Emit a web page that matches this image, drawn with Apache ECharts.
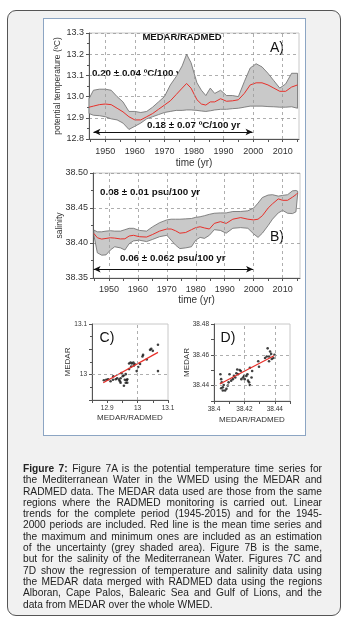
<!DOCTYPE html>
<html>
<head>
<meta charset="utf-8">
<script src="https://cdn.jsdelivr.net/npm/echarts@6/dist/echarts.min.js"></script>
<style>
  html, body { margin: 0; padding: 0; background: #fff; }
  body { width: 351px; height: 621px; position: relative; overflow: hidden; font-family: "Liberation Sans", Arial, sans-serif; }
  #card { position: absolute; box-sizing: border-box; left: 7px; top: 10px; width: 334px; height: 606px; border: 1.5px solid #555; border-radius: 9px; background: #f1f1f1; }
  #fig { position: absolute; box-sizing: border-box; left: 43px; top: 18px; width: 263px; height: 418px; border: 1.5px solid #8ca5c3; background: #fff; }
  #chart { position: absolute; left: 0; top: 0; width: 351px; height: 621px; }
  #cap { position: absolute; left: 23px; top: 463px; width: 299px; font-size: 10.2px; line-height: 11.3px; color: #222; }
  #cap div { text-align: justify; text-align-last: justify; white-space: nowrap; }
  #cap div.last { text-align-last: left; }
</style>
</head>
<body>
<div id="card"></div>
<div id="fig"></div>
<div id="chart"></div>
<div id="cap">
  <div><b>Figure 7:</b> Figure 7A is the potential temperature time series for</div>
  <div>the Mediterranean Water in the WMED using the MEDAR and</div>
  <div>RADMED data. The MEDAR data used are those from the same</div>
  <div>regions where the RADMED monitoring is carried out. Linear</div>
  <div>trends for the complete period (1945-2015) and for the 1945-</div>
  <div>2000 periods are included. Red line is the mean time series and</div>
  <div>the maximum and minimum ones are included as an estimation</div>
  <div>of the uncertainty (grey shaded area). Figure 7B is the same,</div>
  <div>but for the salinity of the Mediterranean Water. Figures 7C and</div>
  <div>7D show the regression of temperature and salinity data using</div>
  <div>the MEDAR data merged with RADMED data using the regions</div>
  <div>Alboran, Cape Palos, Balearic Sea and Gulf of Lions, and the</div>
  <div class="last">data from MEDAR over the whole WMED.</div>
</div>
<script>
// panel A: potential temperature (mean, min, max)
const yearsA = [1944.5, 1946, 1948, 1950, 1952, 1954, 1956, 1958, 1960, 1962, 1964, 1966, 1968, 1970, 1972, 1974, 1976, 1977.5, 1979, 1981,
  1982.5, 1984, 1985.5, 1987, 1989, 1991, 1993, 1995, 1997, 1999, 2001, 2003, 2005, 2007, 2009, 2011, 2013, 2015];
const meanA = [12.95, 12.955, 12.962, 12.965, 12.962, 12.945, 12.928, 12.905, 12.89, 12.89, 12.905, 12.92, 12.94, 12.96, 12.98, 13.01, 13.04, 13.062, 13.04, 12.985,
  12.965, 12.96, 12.975, 12.975, 12.99, 12.978, 12.98, 12.985, 13.015, 13.055, 13.065, 13.065, 13.055, 13.04, 13.025, 13.025, 13.045, 13.055];
const upperA = [12.99, 13.03, 13.035, 13.035, 13.03, 13.0, 12.975, 12.93, 12.93, 12.925, 12.93, 12.95, 12.975, 13.0, 13.055, 13.095, 13.145, 13.2, 13.16, 13.065,
  13.03, 13.005, 13.04, 13.015, 13.03, 13.005, 13.005, 13.0, 13.07, 13.135, 13.155, 13.14, 13.11, 13.075, 13.04, 13.06, 13.11, 13.11];
const lowerA = [12.92, 12.912, 12.91, 12.905, 12.895, 12.89, 12.875, 12.845, 12.86, 12.875, 12.895, 12.905, 12.915, 12.925, 12.93, 12.935, 12.935, 12.937, 12.937, 12.935,
  12.932, 12.93, 12.933, 12.937, 12.94, 12.94, 12.943, 12.945, 12.95, 12.955, 12.955, 12.955, 12.953, 12.952, 12.95, 12.95, 12.952, 12.945];

// panel B: salinity (mean, min, max)
const yearsB = [1944.8, 1946, 1947.5, 1949, 1950.5, 1952, 1954, 1955.5, 1957, 1958.5, 1960.5, 1963, 1965, 1967.5, 1970, 1971.5, 1973, 1974.5, 1976.5, 1978.5,
  1980, 1981.5, 1983, 1984.7, 1986.4, 1988.5, 1990.5, 1992.8, 1995.5, 1998, 2000, 2001.5, 2003, 2005, 2006.5, 2008.5, 2010, 2011.7, 2013.4, 2014.6, 2015.2];
const meanB = [38.4137, 38.4075, 38.4056, 38.4065, 38.4075, 38.407, 38.4058, 38.406, 38.41, 38.411, 38.409, 38.4085, 38.412, 38.417, 38.42, 38.42, 38.4175, 38.414, 38.415, 38.419,
  38.422, 38.4232, 38.4215, 38.42, 38.428, 38.4305, 38.428, 38.434, 38.4363, 38.434, 38.433, 38.434, 38.439, 38.45, 38.456, 38.463, 38.461, 38.461, 38.4655, 38.469, 38.4715];
const upperB = [38.4185, 38.416, 38.416, 38.417, 38.4176, 38.417, 38.417, 38.419, 38.421, 38.421, 38.418, 38.417, 38.423, 38.429, 38.433, 38.434, 38.434, 38.434, 38.4345, 38.435,
  38.4367, 38.4375, 38.439, 38.441, 38.4425, 38.443, 38.443, 38.445, 38.445, 38.446, 38.45, 38.457, 38.465, 38.4685, 38.469, 38.467, 38.468, 38.469, 38.4745, 38.475, 38.474];
const lowerB = [38.411, 38.386, 38.3826, 38.383, 38.39, 38.3946, 38.393, 38.39, 38.399, 38.403, 38.404, 38.402, 38.405, 38.409, 38.411, 38.404, 38.397, 38.392, 38.393, 38.3946,
  38.404, 38.408, 38.4066, 38.411, 38.419, 38.418, 38.414, 38.421, 38.422, 38.421, 38.413, 38.408, 38.414, 38.425, 38.434, 38.443, 38.4465, 38.4425, 38.442, 38.4445, 38.47];

// trend arrows (1945-2000)
const arrowYearsA = [1946, 1999.8];
const arrowValA = 12.833;
const arrowYearsB = [1944.7, 1999.8];
const arrowValB = 38.3625;

// panel C: MEDAR vs MEDAR/RADMED temperature
const cX = [12.889, 12.897, 12.903, 12.911, 12.919, 12.92, 12.928, 12.933, 12.939, 12.942, 12.944, 12.944, 12.947, 12.951, 12.955, 12.961, 12.958, 12.964, 12.966, 12.961,
  12.966, 12.955, 12.972, 12.972, 12.977, 12.981, 12.986, 12.979, 12.988, 12.99, 12.997, 13.002, 13.008, 13.018, 13.016, 13.03, 13.041, 13.045, 13.05, 13.067, 13.067];
const cY = [12.989, 12.99, 12.991, 12.987, 12.99, 12.997, 12.991, 12.993, 12.99, 12.987, 12.984, 12.993, 13.003, 12.997, 12.999, 13.001, 12.99, 12.989, 12.991, 12.984,
  12.984, 12.978, 13.022, 13.011, 13.024, 13.022, 13.024, 13.016, 13.018, 13.021, 13.007, 13.015, 13.021, 13.039, 13.036, 13.03, 13.049, 13.051, 13.047, 13.059, 13.007];
const regCX = [12.887, 13.067];
const regCY = [12.984, 13.044];

// panel D: MEDAR vs MEDAR/RADMED salinity
const dX = [38.4042, 38.4047, 38.4051, 38.4058, 38.4064, 38.4058, 38.4073, 38.4047, 38.4082, 38.4091, 38.4096, 38.4102, 38.4113, 38.4124, 38.4131, 38.414, 38.4147, 38.4153,
  38.4158, 38.4169, 38.4176, 38.418, 38.4191, 38.4198, 38.4202, 38.4213, 38.422, 38.4224, 38.4231, 38.4236, 38.4236, 38.4247, 38.4251, 38.4291, 38.4296, 38.4336, 38.4347,
  38.4353, 38.4362, 38.4362, 38.4376, 38.438, 38.4391, 38.4398, 38.4369];
const dY = [38.4474, 38.4442, 38.4421, 38.4389, 38.4404, 38.4368, 38.4368, 38.4383, 38.4379, 38.44, 38.4421, 38.4474, 38.4432, 38.4442, 38.4463, 38.4453, 38.448, 38.4505,
  38.4474, 38.4501, 38.4495, 38.4442, 38.4453, 38.4463, 38.4442, 38.4463, 38.4474, 38.4432, 38.4421, 38.4404, 38.4516, 38.4453, 38.4495, 38.4558, 38.4522, 38.4579, 38.4589,
  38.4642, 38.4589, 38.4558, 38.4606, 38.4573, 38.4579, 38.46, 38.4621];
const regDX = [38.4038, 38.4395];
const regDY = [38.441, 38.4594];

const labelYears = [1950, 1960, 1970, 1980, 1990, 2000, 2010];
const tickYears = [1945, 1950, 1955, 1960, 1965, 1970, 1975, 1980, 1985, 1990, 1995, 2000, 2005, 2010, 2015];

const FONT = 'Liberation Sans';
const AXIS = '#555';
const RED = '#e8302a';
const DASH = { type: [3, 3], color: '#9a9a9a', width: 0.8 };

function pairs(xs, ys) {
  return xs.map((x, i) => [x, ys[i]]);
}

function gridBox(left, top, width, height) {
  return { left, top, width, height, show: true, borderColor: '#c8c8c8', borderWidth: 1, backgroundColor: 'transparent' };
}

function timeAxis(gi, min, max, nameGap, margin) {
  return {
    gridIndex: gi, type: 'value', min, max,
    axisLine: { onZero: false, lineStyle: { color: AXIS } },
    axisTick: { customValues: tickYears, length: 3, lineStyle: { color: AXIS } },
    axisLabel: { customValues: labelYears, formatter: v => String(v), fontSize: 9, color: '#333', margin },
    splitLine: { show: false },
    name: 'time (yr)', nameLocation: 'middle', nameGap, nameMoveOverlap: false,
    nameTextStyle: { fontSize: 10, color: '#333' }
  };
}

function valAxis(gi, min, max, interval, name, nameGap, fmt, opts) {
  return Object.assign({
    gridIndex: gi, type: 'value', min, max, interval,
    axisLine: { show: true, onZero: false, lineStyle: { color: AXIS } },
    axisTick: { show: true, length: 3, lineStyle: { color: AXIS } },
    minorTick: { show: true, splitNumber: 2, length: 2, lineStyle: { color: AXIS } },
    axisLabel: { formatter: fmt, fontSize: 9, color: '#333', margin: 5 },
    splitLine: { show: true, lineStyle: DASH },
    name, nameLocation: 'middle', nameGap, nameMoveOverlap: false,
    nameTextStyle: { fontSize: 8.5, color: '#333' }
  }, opts || {});
}

function pickLabels(list, digits) {
  return v => {
    const r = Math.round(v * 1000) / 1000;
    return list.some(t => Math.abs(t - r) < 1e-6) ? String(Number(r.toFixed(digits))) : '';
  };
}

// grey min-max envelope drawn as one polygon through the axis scales
function bandSeries(idx, years, lower, upper) {
  return {
    type: 'custom', xAxisIndex: idx, yAxisIndex: idx, silent: true, z: 1,
    data: years.map((y, i) => [y, lower[i], upper[i]]),
    encode: { x: 0, y: [1, 2] },
    renderItem(params, api) {
      if (params.dataIndex !== 0) return null;
      const top = years.map((y, i) => api.coord([y, upper[i]]));
      const bot = years.map((y, i) => api.coord([y, lower[i]])).reverse();
      return {
        type: 'polygon',
        shape: { points: top.concat(bot) },
        style: { fill: '#c9c9c9', stroke: '#6a6a6a', lineWidth: 0.8 }
      };
    }
  };
}

function arrowSeries(idx, years, val) {
  return {
    type: 'line', xAxisIndex: idx, yAxisIndex: idx, symbol: 'none', silent: true,
    data: pairs(years, [val, val]),
    lineStyle: { opacity: 0 },
    markLine: {
      silent: true, symbol: ['arrow', 'arrow'], symbolSize: [5, 7],
      label: { show: false },
      lineStyle: { color: '#111', width: 1.1, type: 'solid' },
      data: [[{ coord: [years[0], val] }, { coord: [years[1], val] }]]
    }
  };
}

function gridLines(list) {
  return {
    silent: true, symbol: 'none', label: { show: false },
    lineStyle: DASH,
    data: list
  };
}

const chart = echarts.init(document.getElementById('chart'));

const boldTxt = 'bold 9.8px "Liberation Sans"';
function txt(text, x, y, font, align) {
  return {
    type: 'text', x, y, silent: true,
    style: { text, font, fill: '#111', align: align || 'left', verticalAlign: 'middle' }
  };
}

chart.setOption({
  animation: false,
  textStyle: { fontFamily: FONT },
  grid: [
    gridBox(89, 33, 210, 106),
    gridBox(93, 173, 207, 105),
    gridBox(92, 324, 76, 76),
    gridBox(214, 324, 76, 77)
  ],
  xAxis: [
    timeAxis(0, 1944.5, 2015.5, 19, 8),
    timeAxis(1, 1944.5, 2016, 17, 7),
    valAxis(2, 12.85, 13.1, 0.05, 'MEDAR/RADMED', 14, null, {
      minorTick: { show: false }, splitLine: { show: false },
      axisLabel: { formatter: pickLabels([12.9, 13, 13.1], 2), fontSize: 6.5, color: '#333', margin: 5 },
      nameTextStyle: { fontSize: 8, color: '#333' }
    }),
    valAxis(3, 38.4, 38.45, 0.01, 'MEDAR/RADMED', 15, null, {
      minorTick: { show: false }, splitLine: { show: false },
      axisLabel: { formatter: pickLabels([38.4, 38.42, 38.44], 3), fontSize: 6.5, color: '#333', margin: 5 },
      nameTextStyle: { fontSize: 8, color: '#333' }
    })
  ],
  yAxis: [
    valAxis(0, 12.8, 13.3, 0.1, 'potential temperature (ºC)', 27, v => v.toFixed(1)),
    valAxis(1, 38.35, 38.5, 0.05, 'salinity', 29, v => v.toFixed(2)),
    valAxis(2, 12.95, 13.1, 0.05, 'MEDAR', 20, null, {
      splitLine: { show: false },
      axisLabel: { formatter: pickLabels([13, 13.1], 2), fontSize: 6.5, color: '#333', margin: 5 },
      nameTextStyle: { fontSize: 8, color: '#333' }
    }),
    valAxis(3, 38.43, 38.48, 0.01, 'MEDAR', 23, null, {
      minorTick: { show: false }, splitLine: { show: false },
      axisLabel: { formatter: pickLabels([38.44, 38.46, 38.48], 3), fontSize: 6.5, color: '#333', margin: 5 },
      nameTextStyle: { fontSize: 8, color: '#333' }
    })
  ],
  series: [
    bandSeries(0, yearsA, lowerA, upperA),
    {
      type: 'line', xAxisIndex: 0, yAxisIndex: 0, symbol: 'none', silent: true,
      data: pairs(yearsA, meanA),
      lineStyle: { color: RED, width: 1 }, z: 4,
      markLine: gridLines(labelYears.map(v => ({ xAxis: v })))
    },
    arrowSeries(0, arrowYearsA, arrowValA),

    bandSeries(1, yearsB, lowerB, upperB),
    {
      type: 'line', xAxisIndex: 1, yAxisIndex: 1, symbol: 'none', silent: true,
      data: pairs(yearsB, meanB),
      lineStyle: { color: RED, width: 1 }, z: 4,
      markLine: gridLines(labelYears.map(v => ({ xAxis: v })))
    },
    arrowSeries(1, arrowYearsB, arrowValB),

    {
      type: 'scatter', xAxisIndex: 2, yAxisIndex: 2, silent: true,
      data: pairs(cX, cY), symbolSize: 2.6, itemStyle: { color: '#111' },
      markLine: gridLines([{ xAxis: 13 }, { yAxis: 13 }])
    },
    {
      type: 'line', xAxisIndex: 2, yAxisIndex: 2, symbol: 'none', silent: true,
      data: pairs(regCX, regCY), lineStyle: { color: RED, width: 1.2 }, z: 4
    },
    {
      type: 'scatter', xAxisIndex: 3, yAxisIndex: 3, silent: true,
      data: pairs(dX, dY), symbolSize: 2.6, itemStyle: { color: '#111' },
      markLine: gridLines([{ xAxis: 38.42 }, { xAxis: 38.44 }, { yAxis: 38.44 }, { yAxis: 38.46 }])
    },
    {
      type: 'line', xAxisIndex: 3, yAxisIndex: 3, symbol: 'none', silent: true,
      data: pairs(regDX, regDY), lineStyle: { color: RED, width: 1.2 }, z: 4
    }
  ],
  graphic: [
    txt('MEDAR/RADMED', 182, 37, 'bold 9.5px "Liberation Sans"', 'center'),
    txt('A)', 277, 48, '14px "Liberation Sans"', 'center'),
    txt('0.20 ± 0.04 ºC/100 yr', 92, 73, boldTxt),
    txt('0.18 ± 0.07 ºC/100 yr', 147, 125, boldTxt),
    txt('0.08 ± 0.01 psu/100 yr', 100, 192, boldTxt),
    txt('0.06 ± 0.062 psu/100 yr', 120, 258, boldTxt),
    txt('B)', 277, 237, '14px "Liberation Sans"', 'center'),
    txt('C)', 107, 338, '14px "Liberation Sans"', 'center'),
    txt('D)', 228, 338, '14px "Liberation Sans"', 'center')
  ]
});
</script>
</body>
</html>
